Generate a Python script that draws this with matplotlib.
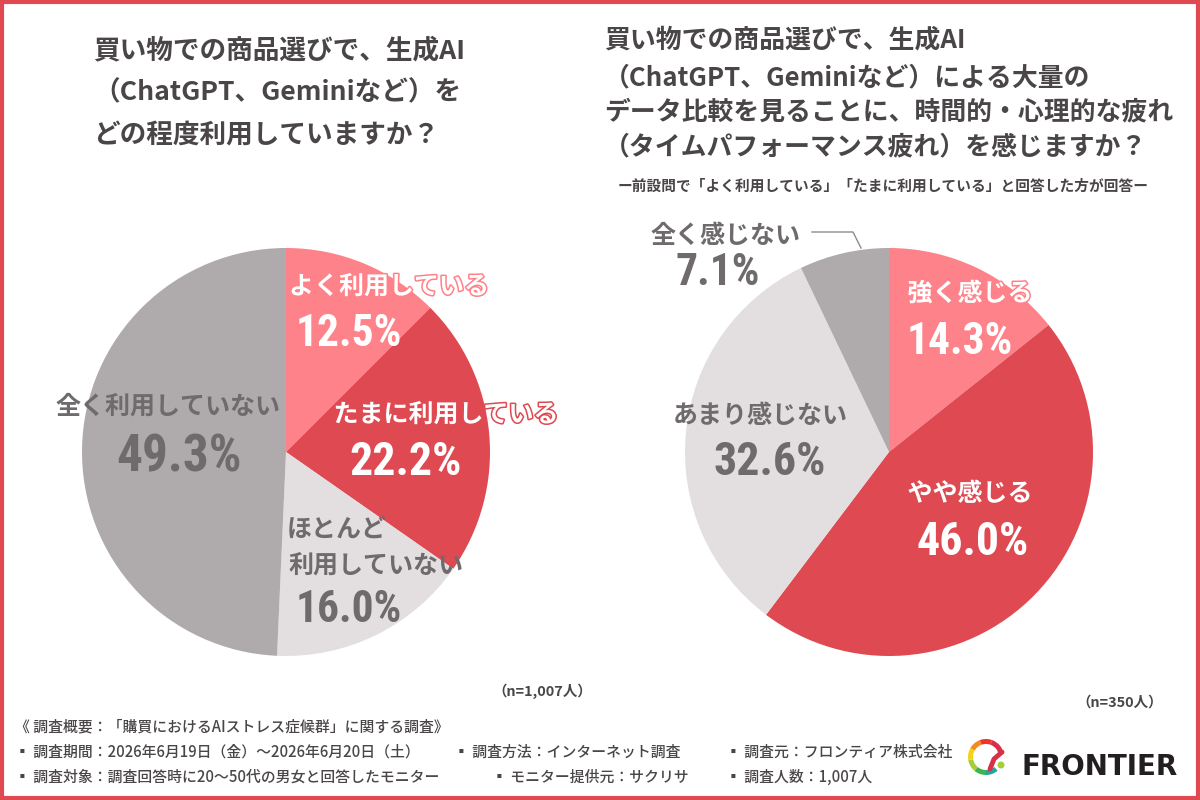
import matplotlib
matplotlib.use("Agg")
import matplotlib.pyplot as plt
from matplotlib.patches import Rectangle, Wedge, Circle
from matplotlib.lines import Line2D
import matplotlib.patheffects as pe
from matplotlib import font_manager as fm

JP = ['Noto Sans CJK JP', 'DejaVu Sans']
names = {f.name for f in fm.fontManager.ttflist}
cond = [n for n in ('Roboto Condensed', 'Liberation Sans Narrow', 'Open Sans Condensed') if n in names]
NUM = cond[:1] if cond else ['Roboto']
NUM_SIZE = 33 if cond else 29
plt.rcParams['font.family'] = JP

left_labels = ['よく利用している', 'たまに利用している', 'ほとんど\n利用していない', '全く利用していない']
left_values = [12.5, 22.2, 16.0, 49.3]
left_colors = ['#FE8289', '#DF4951', '#E3DFE1', '#AFABAD']
right_labels = ['強く感じる', 'やや感じる', 'あまり感じない', '全く感じない']
right_values = [14.3, 46.0, 32.6, 7.1]
right_colors = left_colors

BORDER = '#E0494F'
DARK = '#4A4647'
GREY = '#6F6B6D'

fig = plt.figure(figsize=(12, 8), dpi=100, facecolor='white')
bg = fig.add_axes([0, 0, 1, 1])
bg.set_xlim(0, 1200); bg.set_ylim(800, 0); bg.axis('off')
bg.add_patch(Rectangle((2, 2), 1196, 796, fill=False, ec=BORDER, lw=3))


def pie_ax(cx, cy, r, values, colors):
    ax = fig.add_axes([(cx - r) / 1200, 1 - (cy + r) / 800, 2 * r / 1200, 2 * r / 800])
    ax.pie(values, colors=colors, startangle=90, counterclock=False, radius=1.0,
           wedgeprops={'linewidth': 0})
    ax.set_xlim(-1, 1); ax.set_ylim(-1, 1)
    ax.set_zorder(1); ax.patch.set_alpha(0)


pie_ax(286, 452, 204, left_values, left_colors)
pie_ax(889, 452, 204, right_values, right_colors)

top = fig.add_axes([0, 0, 1, 1], zorder=5)
top.set_xlim(0, 1200); top.set_ylim(800, 0); top.axis('off'); top.patch.set_alpha(0)

for s, y in [('買い物での商品選びで、生成AI', 51),
             ('（ChatGPT、Geminiなど）を', 93),
             ('どの程度利用していますか？', 135)]:
    top.text(93, y, s, ha='left', va='center', fontsize=19.2, fontweight='bold', color=DARK)

for s, y in [('買い物での商品選びで、生成AI', 40),
             ('（ChatGPT、Geminiなど）による大量の', 78),
             ('データ比較を見ることに、時間的・心理的な疲れ', 112),
             ('（タイムパフォーマンス疲れ）を感じますか？', 147)]:
    top.text(604, y, s, ha='left', va='center', fontsize=18.6, fontweight='bold', color=DARK)
top.text(883, 186, 'ー前設問で「よく利用している」「たまに利用している」と回答した方が回答ー',
         ha='center', va='center', fontsize=10.6, fontweight='bold', color=DARK)


def lab(s, x, y, color, stroke=None, size=18, ha='center'):
    t = top.text(x, y, s, ha=ha, va='center', fontsize=size, fontweight='bold', color=color)
    if stroke:
        t.set_path_effects([pe.withStroke(linewidth=2.2, foreground=stroke)])


def pct(v, x, y, color, scale=1.0):
    top.text(x, y, f'{v:.1f}%', ha='center', va='center', fontsize=NUM_SIZE * scale, fontweight='bold',
             family=NUM, color=color)


lab(left_labels[0], 389, 287, 'white', left_colors[0])
pct(left_values[0], 349, 334, 'white', 0.95)
lab(left_labels[1], 446, 415, 'white', left_colors[1])
pct(left_values[1], 406, 462, 'white')
lab(left_labels[2].split('\n')[0], 337, 530, GREY)
lab(left_labels[2].split('\n')[1], 376, 566, GREY)
pct(left_values[2], 349, 610, GREY, 0.95)
lab(left_labels[3], 168, 407, GREY)
pct(left_values[3], 179, 457, GREY, 1.12)

lab(right_labels[0], 970, 294, 'white', right_colors[0])
pct(right_values[0], 960, 342, 'white', 0.95)
lab(right_labels[1], 970, 494, 'white', right_colors[1])
pct(right_values[1], 973, 542, 'white')
lab(right_labels[2], 760, 416, GREY)
pct(right_values[2], 770, 462, GREY)
lab(right_labels[3], 726, 236, GREY)
pct(right_values[3], 718, 273, GREY, 0.95)
top.add_line(Line2D([812, 853, 861], [232, 232, 248], color='#8F8B8D', lw=1))

top.text(542, 691, '（n=1,007人）', ha='center', va='center', fontsize=10.4, fontweight='bold', color=DARK)
top.text(1120, 703, '（n=350人）', ha='center', va='center', fontsize=10.4, fontweight='bold', color=DARK)

foot = [('《 調査概要：「購買におけるAIストレス症候群」に関する調査》', 15, 727),
        ('▪ 調査期間：2026年6月19日（金）～2026年6月20日（土）', 15, 752),
        ('▪ 調査方法：インターネット調査', 454, 752),
        ('▪ 調査元：フロンティア株式会社', 726, 752),
        ('▪ 調査対象：調査回答時に20～50代の男女と回答したモニター', 15, 777),
        ('▪ モニター提供元：サクリサ', 492, 777),
        ('▪ 調査人数：1,007人', 726, 777)]
for s, x, y in foot:
    top.text(x, y, s, ha='left', va='center', fontsize=10.7, fontweight='medium', color=DARK)

top.text(1100, 767, 'FRONTIER', ha='center', va='center', fontsize=20, fontweight='bold',
         family=['DejaVu Sans'], color='#231F20')
for a, b, c in [(50, 90, '#1FA6A0'), (90, 130, '#3CB64A'), (130, 170, '#A6CE39'),
                (170, 210, '#F7D117'), (210, 250, '#F58A1F'), (250, 290, '#E8352E'),
                (290, 350, '#D9304A')]:
    top.add_patch(Wedge((986, 757), 18, a, b, width=5, fc=c, ec='none'))
top.add_line(Line2D([1002, 994, 990], [752, 759, 769], color='#D9304A', lw=3.5, solid_capstyle='round'))
top.add_patch(Circle((1001, 765), 3.5, fc='#A6CE39', ec='none'))

fig.savefig('out.png', dpi=100)
